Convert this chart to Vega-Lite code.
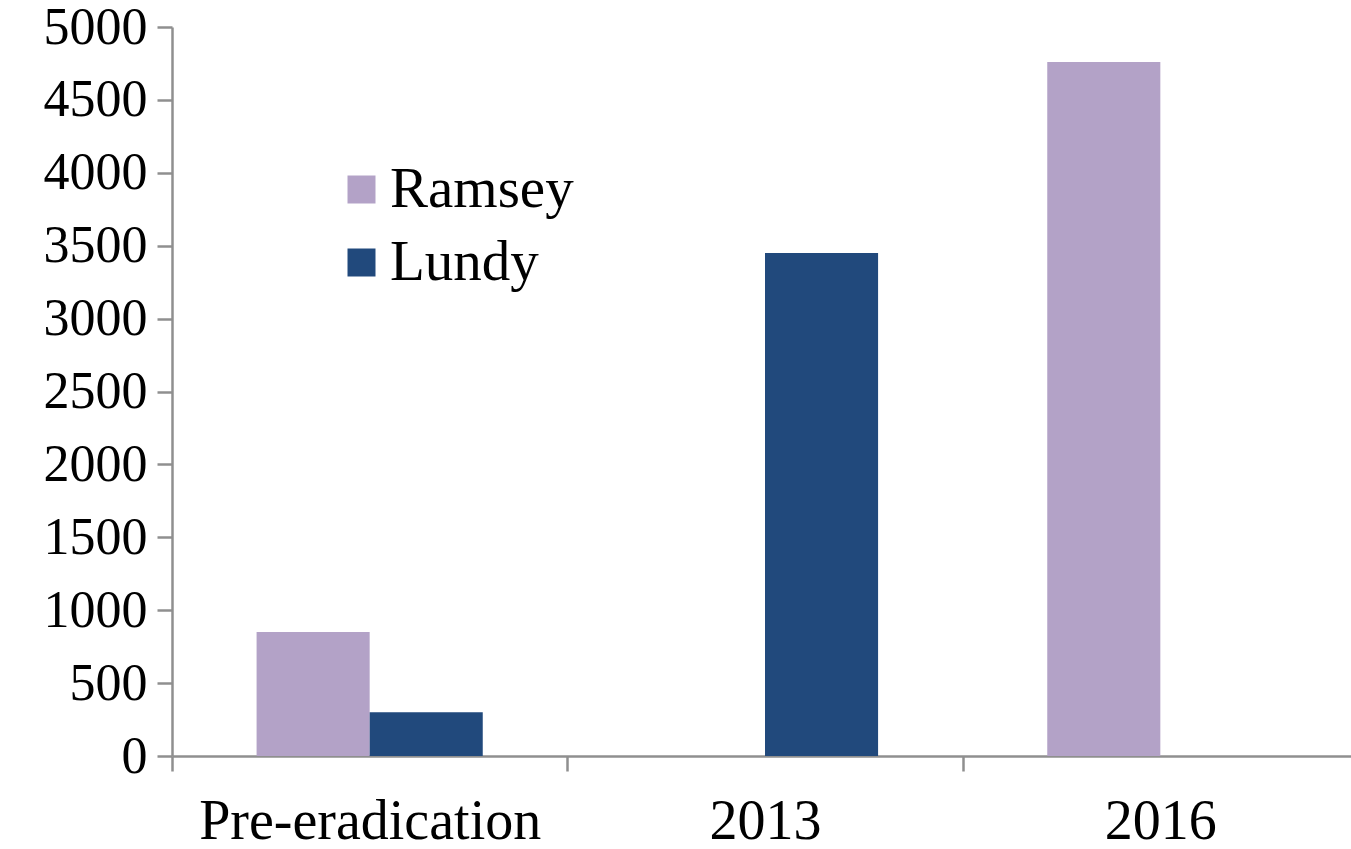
{
  "$schema": "https://vega.github.io/schema/vega-lite/v6.json",
  "width": 1186,
  "height": 729,
  "padding": {"left": 172, "top": 27, "right": 0, "bottom": 93},
  "autosize": {"type": "none"},
  "background": "white",
  "config": {
    "view": {"stroke": null},
    "font": "Liberation Serif"
  },
  "data": {
    "values": [
      {"period": "Pre-eradication", "island": "Ramsey", "count": 850},
      {"period": "Pre-eradication", "island": "Lundy", "count": 300},
      {"period": "2013", "island": "Lundy", "count": 3450},
      {"period": "2016", "island": "Ramsey", "count": 4760}
    ]
  },
  "mark": {"type": "bar"},
  "encoding": {
    "x": {
      "field": "period",
      "type": "nominal",
      "sort": ["Pre-eradication", "2013", "2016"],
      "scale": {"paddingInner": 0, "paddingOuter": 0},
      "axis": {
        "title": null,
        "labelAngle": 0,
        "labelFont": "Liberation Serif",
        "labelFontSize": 56,
        "labelLimit": 0,
        "labelColor": "black",
        "labelPadding": 23,
        "domainColor": "#8f8f8f",
        "domainWidth": 2.5,
        "tickColor": "#8f8f8f",
        "tickWidth": 2.5,
        "tickSize": 15,
        "tickBand": "extent",
        "grid": false
      }
    },
    "xOffset": {
      "field": "island",
      "type": "nominal",
      "sort": ["Ramsey", "Lundy"],
      "scale": {"domain": ["Ramsey", "Lundy"], "paddingInner": 0, "paddingOuter": 0.748}
    },
    "y": {
      "field": "count",
      "type": "quantitative",
      "scale": {"domain": [0, 5000], "nice": false},
      "axis": {
        "title": null,
        "values": [0, 500, 1000, 1500, 2000, 2500, 3000, 3500, 4000, 4500, 5000],
        "format": "d",
        "labelFont": "Liberation Serif",
        "labelFontSize": 52,
        "labelColor": "black",
        "labelPadding": 10,
        "domainColor": "#8f8f8f",
        "domainWidth": 2.5,
        "tickColor": "#8f8f8f",
        "tickWidth": 2.5,
        "tickSize": 15,
        "grid": false
      }
    },
    "color": {
      "field": "island",
      "type": "nominal",
      "scale": {"domain": ["Ramsey", "Lundy"], "range": ["#B3A2C7", "#21497C"]},
      "legend": {
        "title": null,
        "orient": "none",
        "legendX": 161,
        "legendY": 134,
        "symbolType": "square",
        "symbolSize": 784,
        "symbolStrokeWidth": 0,
        "symbolOpacity": 1,
        "labelFont": "Liberation Serif",
        "labelFontSize": 57,
        "labelLimit": 0,
        "labelColor": "black",
        "labelOffset": 0,
        "rowPadding": 15
      }
    }
  }
}
